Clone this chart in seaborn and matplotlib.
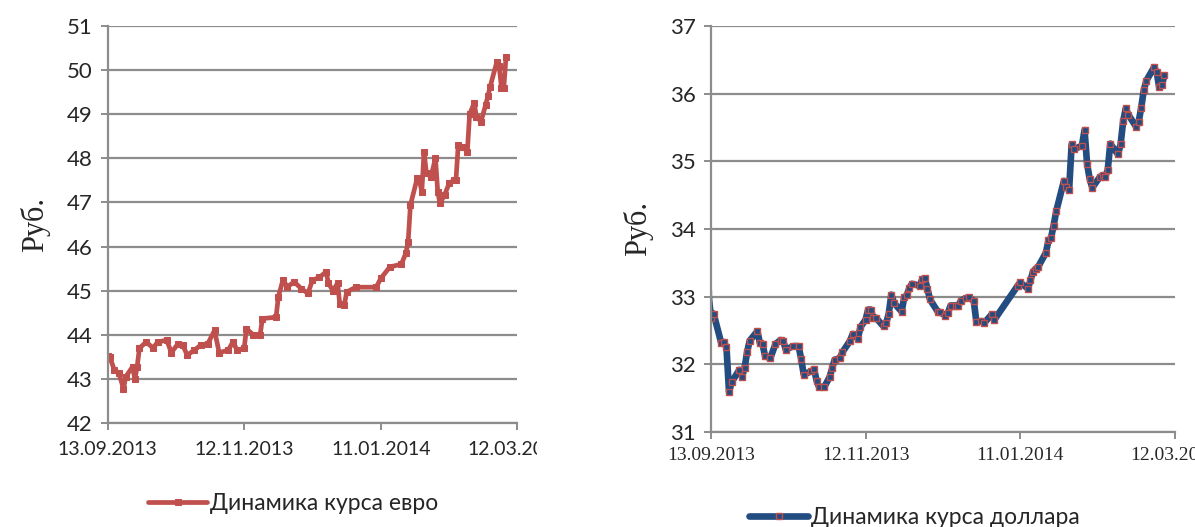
import pandas as pd
import seaborn as sns
import matplotlib.pyplot as plt
from matplotlib.transforms import Bbox, TransformedBbox

# data (day = days since 13.09.2013)
start = pd.Timestamp("2013-09-13")

euro_day = [0, 1, 3, 5, 7, 8, 11, 12, 13, 14, 17, 20, 22, 26, 28, 31, 33, 35, 38, 41,
            44, 47, 49, 53, 55, 57, 60, 61, 64, 67, 68, 74, 75, 77, 79, 82, 85, 88, 90, 93,
            96, 97, 99, 101, 102, 104, 105, 109, 118, 120, 124, 129, 131, 132, 133, 136, 137, 138, 139, 140,
            142, 144, 145, 146, 148, 150, 152, 153, 154, 156, 158, 159, 161, 162, 164, 166, 167, 168, 171, 172,
            173, 174, 175]
euro_rate = [43.52, 43.50, 43.20, 43.13, 42.78, 43.05, 43.28, 43.00, 43.28, 43.70, 43.84, 43.70, 43.84, 43.88, 43.60, 43.80, 43.77, 43.54, 43.65, 43.77,
             43.80, 44.10, 43.60, 43.65, 43.84, 43.65, 43.70, 44.14, 44.00, 44.00, 44.37, 44.40, 44.86, 45.24, 45.09, 45.20, 45.05, 44.94, 45.24, 45.30,
             45.43, 45.17, 45.00, 45.17, 44.70, 44.68, 44.97, 45.08, 45.08, 45.28, 45.54, 45.60, 45.85, 46.10, 46.94, 47.55, 47.50, 47.24, 48.15, 47.66,
             47.58, 48.00, 47.24, 46.98, 47.17, 47.43, 47.50, 47.50, 48.30, 48.26, 48.15, 49.00, 49.25, 48.94, 48.83, 49.20, 49.40, 49.62, 50.19, 50.08,
             49.59, 49.59, 50.30]

usd_day = [-1, 0, 1, 4, 5, 6, 7, 8, 11, 12, 13, 14, 15, 18, 19, 20, 21, 23, 25, 27,
           28, 29, 32, 34, 35, 36, 39, 40, 41, 42, 44, 46, 47, 48, 50, 51, 54, 55, 57, 58,
           60, 61, 62, 63, 64, 67, 68, 69, 70, 71, 74, 75, 76, 77, 78, 81, 82, 83, 84, 85,
           88, 89, 91, 92, 93, 95, 96, 97, 99, 100, 102, 103, 105, 106, 109, 110, 119, 120, 123, 124,
           125, 126, 127, 130, 131, 132, 133, 134, 137, 138, 139, 140, 141, 144, 145, 146, 147, 148, 151, 152,
           153, 154, 155, 158, 159, 160, 161, 162, 165, 166, 167, 168, 169, 172, 173, 174, 175, 176]
usd_rate = [33.05, 32.68, 32.75, 32.31, 32.33, 32.25, 31.59, 31.74, 31.92, 31.82, 31.94, 32.18, 32.35, 32.49, 32.31, 32.30, 32.12, 32.09, 32.30, 32.36,
            32.35, 32.22, 32.27, 32.27, 32.08, 31.85, 31.90, 31.93, 31.76, 31.66, 31.67, 31.81, 31.94, 32.07, 32.09, 32.18, 32.35, 32.45, 32.38, 32.55,
            32.66, 32.81, 32.81, 32.69, 32.69, 32.56, 32.61, 32.75, 33.03, 32.91, 32.78, 32.99, 33.02, 33.13, 33.19, 33.16, 33.26, 33.27, 33.12, 32.96,
            32.78, 32.77, 32.72, 32.76, 32.87, 32.87, 32.87, 32.94, 32.98, 32.99, 32.94, 32.63, 32.64, 32.61, 32.74, 32.66, 33.16, 33.21, 33.12, 33.24,
            33.37, 33.41, 33.44, 33.65, 33.83, 33.87, 34.05, 34.26, 34.71, 34.62, 34.57, 35.25, 35.18, 35.23, 35.46, 34.96, 34.74, 34.61, 34.77, 34.79,
            34.77, 34.87, 35.26, 35.10, 35.25, 35.59, 35.78, 35.69, 35.51, 35.58, 35.79, 36.05, 36.19, 36.39, 36.32, 36.09, 36.12, 36.27]

tick_day = [0, 60, 120, 180]
tick_label = ["13.09.2013", "12.11.2013", "11.01.2014", "12.03.2014"]

euro = pd.DataFrame({"date": start + pd.to_timedelta(euro_day, "D"), "rate": euro_rate})
usd = pd.DataFrame({"date": start + pd.to_timedelta(usd_day, "D"), "rate": usd_rate})
tick_date = list(start + pd.to_timedelta(tick_day, "D"))

sns.set_style("white")
plt.rcParams['font.family'] = ['Lato', 'DejaVu Sans']

red = "#C0504D"
blue = "#234C80"
grey = "#8C8C8C"

fig = plt.figure(figsize=(11.95, 5.27), dpi=100)
ax1 = fig.add_axes([0.090, 0.197, 0.343, 0.754])
ax2 = fig.add_axes([0.595, 0.180, 0.388, 0.771])

#euro panel
sns.lineplot(data=euro, x="date", y="rate", ax=ax1, color=red, lw=3.4,
             marker="s", markersize=4, markeredgecolor=red, label="Динамика курса евро")
ax1.set_ylim(42, 51)
ax1.set_yticks(range(42, 52))

#dollar panel
sns.lineplot(data=usd, x="date", y="rate", ax=ax2, color=blue, lw=4.8,
             marker="s", markersize=5, markerfacecolor=blue, markeredgecolor=red,
             markeredgewidth=1.0, label="Динамика курса доллара")
ax2.set_ylim(31, 37)
ax2.set_yticks(range(31, 38))

for ax in (ax1, ax2):
    ax.set_xlim(tick_date[0], tick_date[-1])
    ax.set_xticks(tick_date)
    ax.set_xticklabels(tick_label)
    ax.yaxis.grid(True, color=grey, lw=1.6)
    ax.xaxis.grid(False)
    for s in ["top", "right"]:
        ax.spines[s].set_visible(False)
    for s in ["left", "bottom"]:
        ax.spines[s].set_color(grey)
        ax.spines[s].set_linewidth(1.6)
    ax.tick_params(axis="both", direction="out", length=5, width=1.4, color=grey, bottom=True, left=True)
    ax.tick_params(axis="y", labelsize=16, pad=6)
    ax.set_xlabel("")
    ax.set_ylabel("Руб.", family=["Liberation Serif"], fontsize=22, labelpad=12)

ax1.tick_params(axis="x", labelsize=14, pad=8)
ax2.tick_params(axis="x", labelsize=14, pad=6)
for lab in ax2.get_xticklabels():
    lab.set_family(["Liberation Serif"])

# clip the last date label of the left chart like the reference
clip = TransformedBbox(Bbox([[0, 0], [537 / 1195, 1]]), fig.transFigure)
for lab in ax1.get_xticklabels():
    lab.set_clip_on(True)
    lab.set_clip_box(clip)

ax1.legend(loc="center", bbox_to_anchor=(0.245, 0.045), bbox_transform=fig.transFigure,
           frameon=False, fontsize=16.5, handlelength=2.6, handletextpad=0.1)
ax2.legend(loc="center", bbox_to_anchor=(0.765, 0.018), bbox_transform=fig.transFigure,
           frameon=False, fontsize=16.5, handlelength=2.6, handletextpad=0.1)

plt.savefig("out.png", dpi=100)
